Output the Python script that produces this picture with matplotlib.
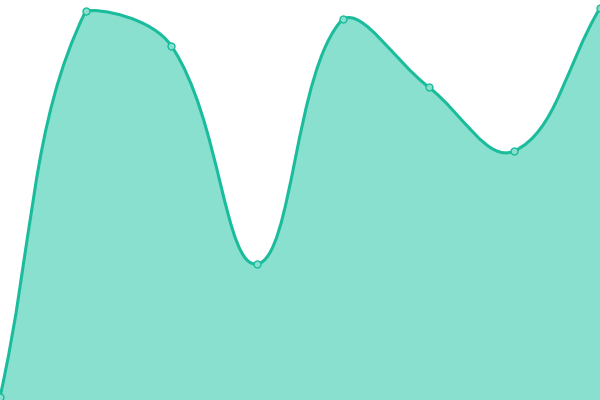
import numpy as np
import matplotlib
matplotlib.use("Agg")
import matplotlib.pyplot as plt
from matplotlib.path import Path
from matplotlib.patches import PathPatch

# data (height above the bottom)
categories = list(range(8))
values = [3, 389, 354, 136, 381, 313, 249, 392]

LINE = "#1abc9c"
FILL = "#8ae0cf"
TENSION = 0.4

W, H = 600, 400


def spline_path(xs, ys, sx, sy, top, closed_bottom=None):
    # Chart.js-style bezier control points, computed in pixel units
    px = np.asarray(xs, float) * sx
    py = np.asarray(ys, float) * sy
    n = len(px)
    cp_prev = [(px[0], py[0])] * n
    cp_next = [(px[0], py[0])] * n
    for i in range(n):
        prev = i - 1 if i > 0 else i
        nxt = i + 1 if i < n - 1 else i
        d01 = np.hypot(px[i] - px[prev], py[i] - py[prev])
        d12 = np.hypot(px[nxt] - px[i], py[nxt] - py[i])
        tot = d01 + d12 if d01 + d12 else 1
        fa = TENSION * d01 / tot
        fb = TENSION * d12 / tot
        dx = px[nxt] - px[prev]
        dy = py[nxt] - py[prev]
        # keep control points inside the chart area
        cp_prev[i] = (px[i] - fa * dx, min(py[i] - fa * dy, top * sy))
        cp_next[i] = (px[i] + fb * dx, min(py[i] + fb * dy, top * sy))
    verts = [(px[0] / sx, py[0] / sy)]
    codes = [Path.MOVETO]
    for i in range(1, n):
        a = cp_next[i - 1]
        b = cp_prev[i]
        verts += [(a[0] / sx, a[1] / sy), (b[0] / sx, b[1] / sy), (px[i] / sx, py[i] / sy)]
        codes += [Path.CURVE4] * 3
    if closed_bottom is not None:
        verts += [(xs[-1], closed_bottom), (xs[0], closed_bottom), (xs[0], ys[0])]
        codes += [Path.LINETO, Path.LINETO, Path.CLOSEPOLY]
    return Path(verts, codes)


fig = plt.figure(figsize=(W / 100, H / 100), dpi=100)
ax = fig.add_axes([0, 0, 1, 1])
ax.set_xlim(categories[0], categories[-1])
ax.set_ylim(0, H)
ax.axis("off")

sx = W / (categories[-1] - categories[0])
sy = 1.0
top = max(values)

area = spline_path(categories, values, sx, sy, top, closed_bottom=0)
ax.add_patch(PathPatch(area, facecolor=FILL, edgecolor="none", zorder=1))
line = spline_path(categories, values, sx, sy, top)
ax.add_patch(PathPatch(line, facecolor="none", edgecolor=LINE, lw=2.2, zorder=2,
                       capstyle="round", joinstyle="round"))
ax.plot(categories, values, "o", ms=5, mfc=FILL, mec=LINE, mew=1, zorder=3, clip_on=False)

fig.savefig("out.png", dpi=100)
